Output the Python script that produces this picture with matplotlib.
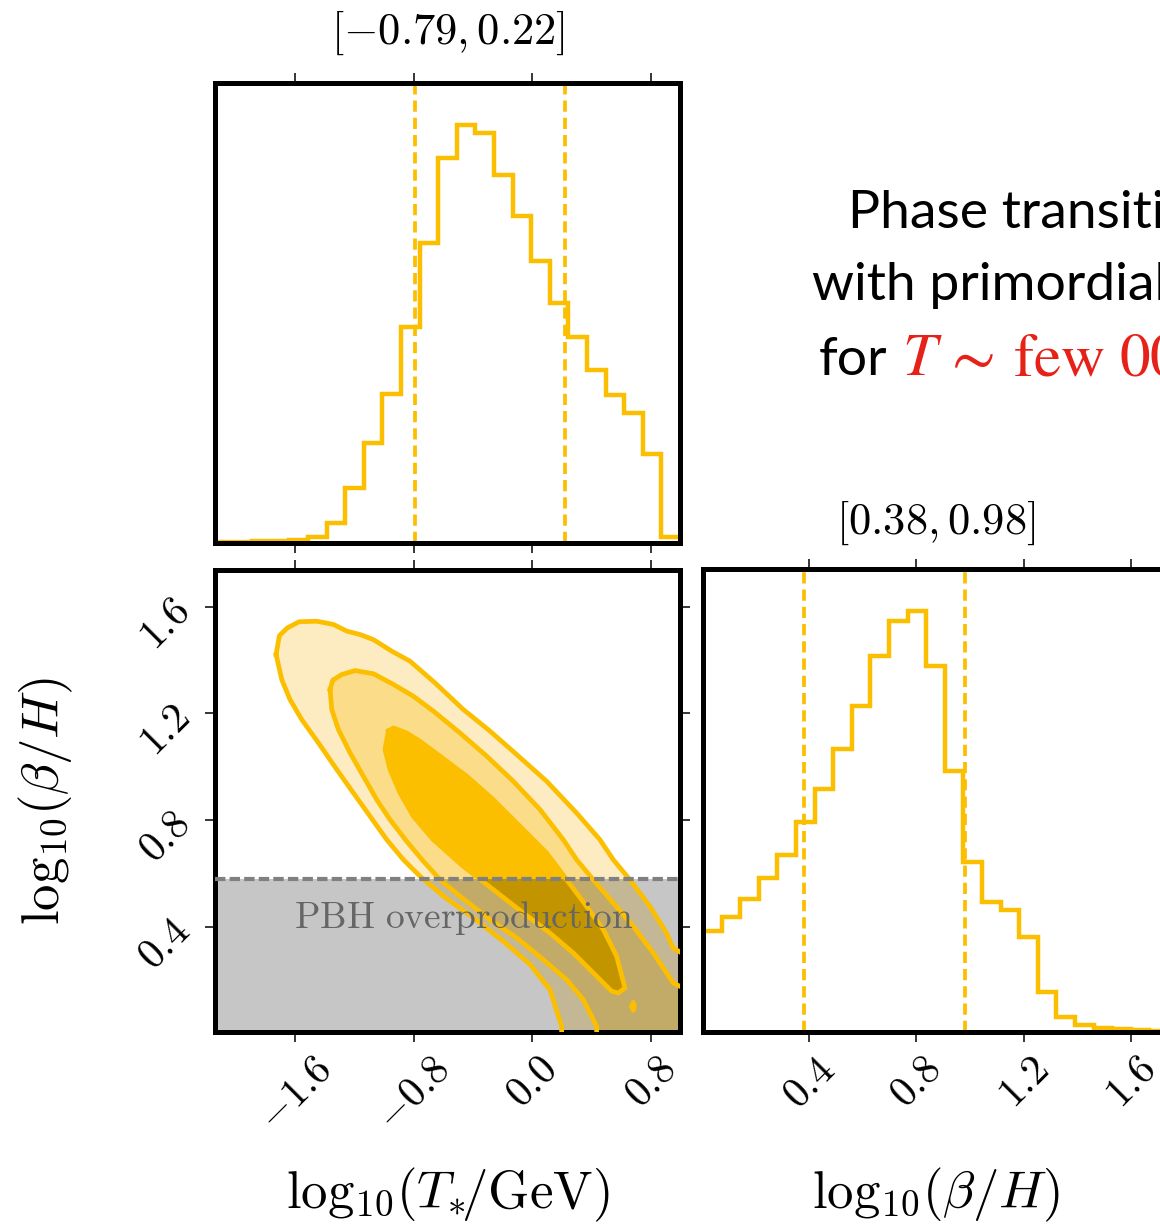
import numpy as np
import matplotlib
matplotlib.use('Agg')
import matplotlib.pyplot as plt

# =========================
# GLOBAL STYLE
# =========================
matplotlib.rcParams.update({
    'mathtext.fontset': 'cm',
    'font.family': 'serif',
    'font.serif': ['DejaVu Serif'],
    'axes.linewidth': 3.6,
    'xtick.major.size': 7,
    'ytick.major.size': 7,
    'xtick.major.width': 1.1,
    'ytick.major.width': 1.1,
    'xtick.direction': 'out',
    'ytick.direction': 'out',
})

W, H = 1160, 1231

ORANGE = "#fbbf00"
LIGHT1 = "#fdecc2"   # outer level
LIGHT2 = "#fbdc88"   # middle level
RED = "#e62117"

# =========================
# DATA
# =========================
T_RANGE = (-2.14, 0.995)          # log10(T*/GeV) axis range
B_RANGE = (0.005, 1.737)          # log10(beta/H) axis range
T_TICKS = [-1.6, -0.8, 0.0, 0.8]
B_TICKS = [0.4, 0.8, 1.2, 1.6]

# 1D marginal, 25 bins over T_RANGE (peak normalised to 1)
T_HIST = [0.002, 0.003, 0.004, 0.005, 0.008, 0.014, 0.048, 0.131, 0.240,
          0.357, 0.516, 0.718, 0.921, 1.000, 0.980, 0.881, 0.782, 0.675,
          0.575, 0.492, 0.413, 0.353, 0.310, 0.214, 0.014]
# 1D marginal, 25 bins over B_RANGE
B_HIST = [0.241, 0.273, 0.315, 0.365, 0.421, 0.498, 0.577, 0.672, 0.775,
          0.893, 0.976, 1.000, 0.870, 0.621, 0.403, 0.308, 0.291, 0.225,
          0.096, 0.036, 0.016, 0.009, 0.006, 0.004, 0.002]

T_QUANT = [-0.79, 0.22]
B_QUANT = [0.38, 0.98]
PBH_LIMIT = 0.58

# 2D credible contours (outer, middle, inner)
OUTER_X = [-1.728, -1.706, -1.652, -1.573, -1.454, -1.342, -1.252, -1.162,
           -1.072, -0.949, -0.825, -0.657, -0.466, -0.286, -0.106, 0.096,
           0.298, 0.455, 0.545, 0.657, 0.792, 0.904, 0.949, 1.084, 1.084,
           0.197, 0.197, 0.118, -0.016, -0.196, -0.398, -0.600, -0.758,
           -0.870, -0.982, -1.095, -1.207, -1.319, -1.443, -1.555, -1.634,
           -1.690]
OUTER_Y = [1.420, 1.491, 1.520, 1.543, 1.545, 1.533, 1.508, 1.495,
           1.476, 1.433, 1.395, 1.314, 1.214, 1.133, 1.045, 0.945,
           0.826, 0.726, 0.651, 0.576, 0.476, 0.376, 0.320, 0.276, -0.074,
           -0.074, 0.026, 0.164, 0.258, 0.345, 0.433, 0.514, 0.589,
           0.651, 0.726, 0.814, 0.901, 0.989, 1.089, 1.176, 1.251,
           1.326]
MID_X = [-1.364, -1.346, -1.286, -1.196, -1.072, -0.937, -0.803, -0.668,
         -0.488, -0.308, -0.129, 0.051, 0.208, 0.298, 0.410, 0.545, 0.680,
         0.815, 0.949, 1.084, 1.084, 0.433, 0.433, 0.343, 0.231, 0.073,
         -0.106, -0.286, -0.488, -0.623, -0.735, -0.848, -0.960, -1.050,
         -1.140, -1.229, -1.308, -1.353]
MID_Y = [1.289, 1.324, 1.345, 1.360, 1.348, 1.308, 1.264, 1.208,
         1.126, 1.039, 0.945, 0.839, 0.726, 0.651, 0.576, 0.489, 0.401,
         0.301, 0.189, 0.151, -0.074, -0.074, 0.026, 0.126, 0.201, 0.276,
         0.358, 0.426, 0.514, 0.576, 0.645, 0.720, 0.801, 0.876,
         0.964, 1.051, 1.139, 1.214]
INNER_X = [-0.971, -0.937, -0.848, -0.758, -0.623, -0.443, -0.264, -0.084,
           0.096, 0.231, 0.365, 0.478, 0.568, 0.624, 0.579, 0.534, 0.433,
           0.276, 0.118, -0.061, -0.264, -0.466, -0.668, -0.803, -0.892,
           -0.960, -0.994]
INNER_Y = [1.133, 1.145, 1.126, 1.095, 1.039, 0.964, 0.876, 0.776,
           0.676, 0.576, 0.476, 0.389, 0.289, 0.170, 0.151, 0.158, 0.214,
           0.301, 0.376, 0.451, 0.539, 0.626, 0.726, 0.814, 0.901,
           0.989, 1.064]
ISLAND_X = [0.672, 0.680, 0.688, 0.680]
ISLAND_Y = [0.101, 0.116, 0.101, 0.086]


def axes_px(left, top, right, bottom):
    return [left / W, 1 - bottom / H, (right - left) / W, (bottom - top) / H]


def tick_labels(ticks):
    return [f"${t:.1f}$" for t in ticks]


def closed(xs, ys):
    return list(xs) + [xs[0]], list(ys) + [ys[0]]


fig = plt.figure(figsize=(W / 100, H / 100), dpi=100)

ax_t = fig.add_axes(axes_px(215, 83, 680, 543))
ax_c = fig.add_axes(axes_px(215, 570, 680, 1032))
ax_b = fig.add_axes(axes_px(703, 569, 1168, 1032))

DASH = (0, (3.0, 1.6))
LW = 3.2
TICK_FS = 30
LABEL_FS = 38
TITLE_FS = 32

# -----------------
# top-left: T marginal
# -----------------
edges_t = np.linspace(T_RANGE[0], T_RANGE[1], len(T_HIST) + 1)
ax_t.stairs(T_HIST, edges_t, color=ORANGE, lw=LW)
for q in T_QUANT:
    ax_t.axvline(q, color=ORANGE, lw=2.7, ls=DASH)
ax_t.set_xlim(*T_RANGE)
ax_t.set_ylim(0, 1.1 * max(T_HIST))
ax_t.set_yticks([])
ax_t.set_xticks(T_TICKS)
ax_t.tick_params(axis='x', top=True, bottom=True,
                 labelbottom=False, labeltop=False)
ax_t.set_title(f"$[{T_QUANT[0]:.2f}, {T_QUANT[1]:.2f}]$",
               fontsize=TITLE_FS, y=1.085, pad=0)

# -----------------
# bottom-left: 2D posterior
# -----------------
ax_c.fill(OUTER_X, OUTER_Y, color=LIGHT1, lw=0, zorder=1)
ax_c.fill(MID_X, MID_Y, color=LIGHT2, lw=0, zorder=2)
ax_c.fill(INNER_X, INNER_Y, color=ORANGE, lw=0, zorder=3)
ax_c.fill(ISLAND_X, ISLAND_Y, color=ORANGE, lw=0, zorder=3)
ax_c.axhspan(-1.0, PBH_LIMIT, color="black", alpha=0.224, lw=0, zorder=5)
for xs, ys in [(OUTER_X, OUTER_Y), (MID_X, MID_Y), (INNER_X, INNER_Y),
               (ISLAND_X, ISLAND_Y)]:
    cx, cy = closed(xs, ys)
    ax_c.plot(cx, cy, color=ORANGE, lw=3.4, solid_joinstyle="round",
              zorder=6)
ax_c.axhline(PBH_LIMIT, color="grey", lw=3.0, ls=(0, (2.5, 1.0)), zorder=7)
ax_c.text(-1.607, 0.396, r"$\mathrm{PBH\ overproduction}$", color="#666666",
          fontsize=27, ha="left", va="baseline", zorder=8)

ax_c.set_xlim(*T_RANGE)
ax_c.set_ylim(*B_RANGE)
ax_c.set_xticks(T_TICKS, labels=tick_labels(T_TICKS))
ax_c.set_yticks(B_TICKS, labels=tick_labels(B_TICKS))
ax_c.tick_params(axis='x', top=True, bottom=True, labelsize=TICK_FS,
                 labelrotation=45, pad=5)
ax_c.tick_params(axis='y', left=True, right=True, labelsize=TICK_FS,
                 labelrotation=45, pad=5)
ax_c.set_xlabel(r"$\mathrm{log}_{10}(T_{*}\!/\mathrm{GeV})$",
                fontsize=LABEL_FS)
ax_c.set_ylabel(r"$\mathrm{log}_{10}(\beta/H)$", fontsize=LABEL_FS)
ax_c.xaxis.set_label_coords(0.5, -0.29)
ax_c.yaxis.set_label_coords(-0.30, 0.5)

# -----------------
# bottom-right: beta/H marginal
# -----------------
edges_b = np.linspace(B_RANGE[0], B_RANGE[1], len(B_HIST) + 1)
ax_b.stairs(B_HIST, edges_b, color=ORANGE, lw=LW)
for q in B_QUANT:
    ax_b.axvline(q, color=ORANGE, lw=2.7, ls=DASH)
ax_b.set_xlim(*B_RANGE)
ax_b.set_ylim(0, 1.1 * max(B_HIST))
ax_b.set_yticks([])
ax_b.set_xticks(B_TICKS, labels=tick_labels(B_TICKS))
ax_b.tick_params(axis='x', top=True, bottom=True, labelsize=TICK_FS,
                 labelrotation=45, pad=5)
ax_b.set_xlabel(r"$\mathrm{log}_{10}(\beta/H)$", fontsize=LABEL_FS)
ax_b.xaxis.set_label_coords(0.5, -0.29)
ax_b.set_title(f"$[{B_QUANT[0]:.2f}, {B_QUANT[1]:.2f}]$",
               fontsize=TITLE_FS, y=1.075, pad=0)

# -----------------
# slide caption (cropped at the right edge, as in the slide)
# -----------------
CAP_FS = 38.5
fig.text(848 / W, 1 - 228 / H, "Phase transition", family="Lato",
         fontsize=CAP_FS, va="baseline")
fig.text(812 / W, 1 - 300 / H, "with primordial", family="Lato",
         fontsize=CAP_FS, va="baseline")
fig.text(819 / W, 1 - 375 / H, "for", family="Lato",
         fontsize=CAP_FS, va="baseline")
fig.text(902 / W, 1 - 375 / H, r"$T$", math_fontfamily="stix",
         color=RED, fontsize=44, va="baseline")
fig.text(942 / W, 1 - 375 / H, r"$\sim$", math_fontfamily="stix",
         color=RED, fontsize=46, va="baseline")
fig.text(1013 / W, 1 - 375 / H, r"$\mathrm{few}\ 00$", math_fontfamily="stix",
         color=RED, fontsize=44, va="baseline")

fig.savefig("out.png", dpi=100)
plt.close(fig)
